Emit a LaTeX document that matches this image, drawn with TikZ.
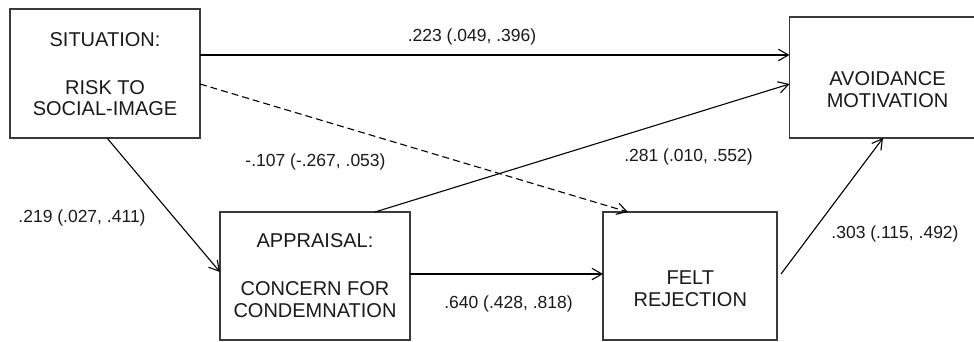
\documentclass[tikz,border=0pt]{standalone}
\usepackage{fontspec}
\setmainfont{Liberation Sans}
\usetikzlibrary{arrows.meta}
\definecolor{boxgray}{HTML}{3A3A3A}
\definecolor{inkgray}{HTML}{1A1A1A}
\begin{document}
\begin{tikzpicture}[x=1pt,y=-1pt,
  box/.style={draw=boxgray,line width=1.1pt,inner sep=0pt,outer sep=0pt,rectangle},
  boxtxt/.style={align=center,inner sep=0pt,text=inkgray,font=\fontsize{20}{21.8}\selectfont},
  lbl/.style={inner sep=0pt,anchor=base,text=inkgray,font=\fontsize{17.5}{20}\selectfont},
  arr/.style={draw=black,line width=1.1pt,-{Straight Barb[length=10pt,width=11.5pt,line width=1.1pt]}},
  dasharr/.style={arr,dash pattern=on 7pt off 4pt}]
\useasboundingbox[fill=white] (0,0) rectangle (974,341);
% boxes
\node[box,minimum width=190pt,minimum height=129pt] (sit) at (105,73.5) {};
\node[box,minimum width=190pt,minimum height=121pt] (avo) at (884.5,77.5) {};
\node[box,minimum width=190pt,minimum height=128pt] (app) at (315,276) {};
\node[box,minimum width=174pt,minimum height=128pt] (fel) at (690,276) {};
% box texts
\node[boxtxt] (sitt) at (105,74.2) {SITUATION:\\[26pt]RISK TO\\SOCIAL-IMAGE};
\node[boxtxt] (avot) at (887.5,90) {AVOIDANCE\\MOTIVATION};
\node[boxtxt] (appt) at (315,275.5) {APPRAISAL:\\[27pt]CONCERN FOR\\CONDEMNATION};
\node[boxtxt] (felt) at (690.3,288.5) {FELT\\REJECTION};
% connectors
\coordinate (fr) at (781,274);
\draw[arr] (sit.east |- 0,55) -- (avo.west |- 0,55);
\draw[dasharr] (sit.east |- 0,84) -- (fel.north -| 628,0);
\draw[arr] (sit.south -| 107,0) -- (app.west |- 0,272);
\draw[arr] (app.north -| 375,0) -- (avo.west |- 0,84);
\draw[arr] (app.east |- 0,274) -- (fel.west |- 0,274);
\draw[arr] (fr) -- (avo.south -| 883,0);
% labels
\node[lbl] (l1) at (472,41.5) {.223 (.049, .396)};
\node[lbl] (l2) at (315.5,166.7) {-.107 (-.267, .053)};
\node[lbl] (l3) at (82,222) {.219 (.027, .411)};
\node[lbl] (l4) at (688.5,161.7) {.281 (.010, .552)};
\node[lbl] (l5) at (508.5,308.3) {.640 (.428, .818)};
\node[lbl] (l6) at (895,238.3) {.303 (.115, .492)};
\end{tikzpicture}
\end{document}
